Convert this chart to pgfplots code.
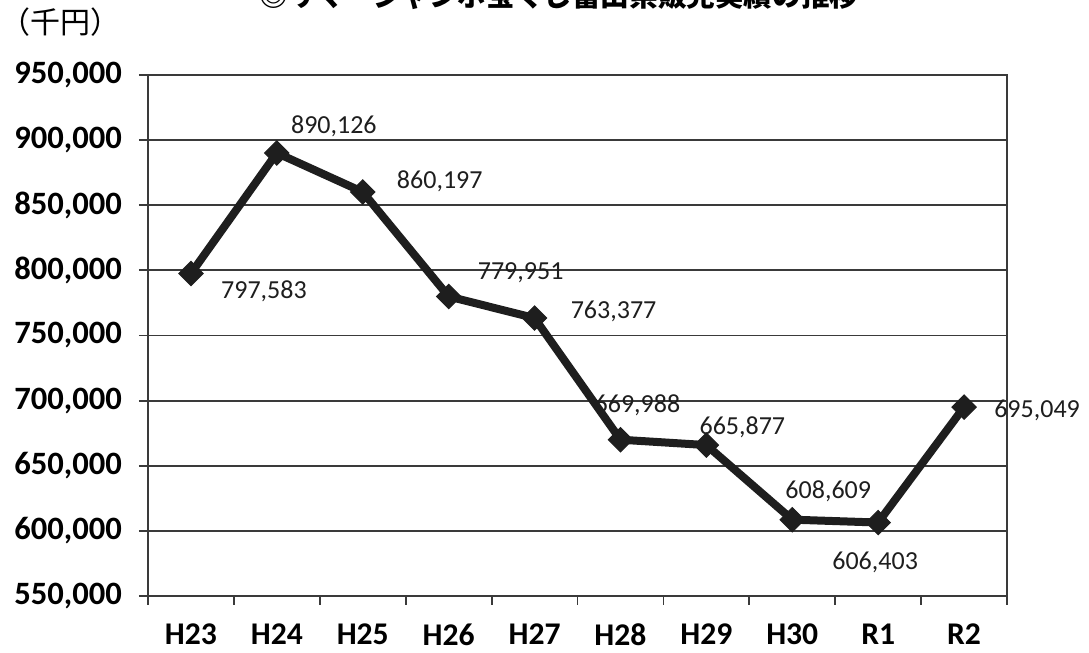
\documentclass[border=0pt]{standalone}
\usepackage{fontspec}
\setmainfont{Carlito}
\newfontfamily\cjk{Noto Sans CJK JP}
\usepackage{pgfplots}
\pgfplotsset{compat=1.18}
\definecolor{ln}{HTML}{1E1E1E}
\definecolor{gr}{HTML}{3A3A3A}
\begin{document}
\begin{tikzpicture}
\begin{axis}[
  at={(74pt,28.5pt)}, anchor=south west,
  scale only axis, width=429.5pt, height=260.5pt,
  xmin=-0.5, xmax=9.5, ymin=550000, ymax=950000,
  xtick={-0.5,0.5,...,9.5},
  xticklabels={H23,H24,H25,H26,H27,H28,H29,H30,R1,R2,{}},
  xticklabel style={font=\bfseries\fontsize{15.8}{18}\selectfont, xshift=21.475pt, anchor=north, yshift=-6pt},
  ytick={550000,600000,...,950000},
  yticklabel style={font=\bfseries\fontsize{16.3}{18}\selectfont, anchor=east, xshift=-5pt},
  scaled y ticks=false,
  /pgf/number format/.cd, fixed, 1000 sep={,}, assume math mode=true,
  /pgfplots/.cd,
  tick pos=left,
  tick align=outside, major tick length=4.5pt,
  tick style={gr, line width=0.9pt},
  ymajorgrids, grid style={gr, line width=0.9pt},
  axis line style={gr, line width=0.9pt},
  clip=false,
]
\addplot[ln, line width=4pt, mark=square*, mark size=4.3pt, mark options={rotate=45, fill=ln, draw=ln, line width=0.5pt}]
 coordinates {(0,797583)(1,890126)(2,860197)(3,779951)(4,763377)(5,669988)(6,665877)(7,608609)(8,606403)(9,695049)};
\begin{scope}[every node/.style={font=\fontsize{13}{15}\selectfont, text=ln, inner sep=0pt}]
\node[xshift=36.5pt, yshift=-9pt] at (axis cs:0,797583) {797,583};
\node[xshift=28.5pt, yshift=13.5pt] at (axis cs:1,890126) {890,126};
\node[xshift=38.5pt, yshift=5.5pt] at (axis cs:2,860197) {860,197};
\node[xshift=36pt, yshift=12pt] at (axis cs:3,779951) {779,951};
\node[xshift=39.5pt, yshift=3.5pt] at (axis cs:4,763377) {763,377};
\node[xshift=8.5pt, yshift=17pt] at (axis cs:5,669988) {669,988};
\node[xshift=18pt, yshift=9pt] at (axis cs:6,665877) {665,877};
\node[xshift=18pt, yshift=14pt] at (axis cs:7,608609) {608,609};
\node[xshift=-1.5pt, yshift=-20pt] at (axis cs:8,606403) {606,403};
\node[xshift=36.5pt, yshift=-1.5pt] at (axis cs:9,695049) {695,049};
\end{scope}
\end{axis}
\node[font=\cjk\fontsize{15}{17}\selectfont, anchor=west, inner sep=0pt] at (0pt,315.5pt) {（千円）};
\node[font=\cjk\bfseries\fontsize{14.3}{16}\selectfont, anchor=base, inner sep=0pt] at (279.5pt,323pt) {◎サマージャンボ宝くじ富山県販売実績の推移};
\pgfresetboundingbox
\useasboundingbox (0,0) rectangle (544.5pt,326.5pt);
\end{tikzpicture}
\end{document}
